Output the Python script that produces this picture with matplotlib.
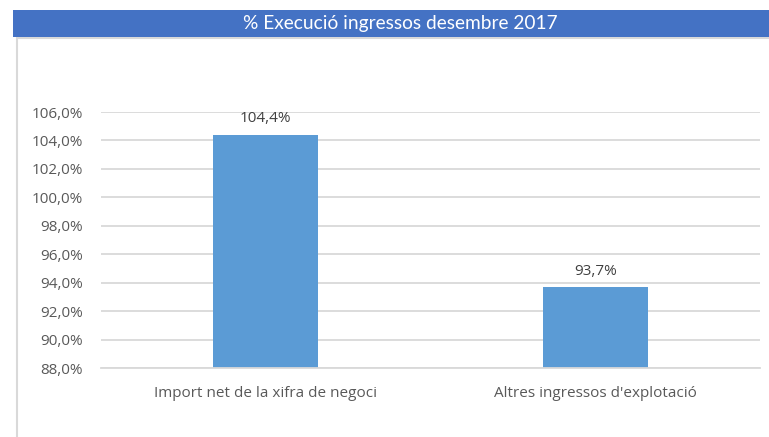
import matplotlib
matplotlib.use("Agg")
import matplotlib.pyplot as plt
from matplotlib.patches import Rectangle

categories = ["Import net de la xifra de negoci", "Altres ingressos d'explotació"]
values = [104.4, 93.7]
value_labels = ["104,4%", "93,7%"]
yticks = [88, 90, 92, 94, 96, 98, 100, 102, 104, 106]
ytick_labels = ["88,0%", "90,0%", "92,0%", "94,0%", "96,0%", "98,0%",
                "100,0%", "102,0%", "104,0%", "106,0%"]
title = "% Execució ingressos desembre 2017"

W, H = 769, 437
fig = plt.figure(figsize=(W / 100, H / 100), dpi=100)
fig.patch.set_facecolor("white")

# chart frame
fig.add_artist(Rectangle((17 / W, -0.05), (W + 10) / W, (H - 38) / H + 0.05,
                         transform=fig.transFigure, facecolor="white",
                         edgecolor="#d9d9d9", linewidth=1.5, zorder=0))
# title band
fig.add_artist(Rectangle((13 / W, 1 - 36.5 / H), (W - 13) / W, 26.5 / H,
                         transform=fig.transFigure, facecolor="#4472c4",
                         edgecolor="none", zorder=1))
fig.text(400 / W, 1 - 23.5 / H, title, color="white",
         fontsize=13.8, family="Lato", ha="center", va="center", zorder=2)

ax = fig.add_axes([101 / W, (H - 368) / H, (760 - 101) / W, (368 - 112) / H])
ax.set_facecolor("none")
x = list(range(len(categories)))
ax.bar(x, values, width=0.32, color="#5b9bd5", zorder=2, bottom=0)
ax.set_xlim(-0.5, len(categories) - 0.5)
ax.set_ylim(88, 106)
ax.set_yticks(yticks)
ax.set_yticklabels(ytick_labels)
ax.set_xticks(x)
ax.set_xticklabels(categories)
ax.yaxis.grid(True, color="#d9d9d9", linewidth=1.3, zorder=0)
ax.set_axisbelow(True)
for s in ["top", "right", "left"]:
    ax.spines[s].set_visible(False)
ax.spines["bottom"].set_color("#d9d9d9")
ax.spines["bottom"].set_linewidth(1.3)
ax.tick_params(axis="both", length=0, colors="#595959", labelsize=11)
ax.tick_params(axis="y", pad=13)
ax.tick_params(axis="x", pad=13)
for lbl in ax.get_xticklabels() + ax.get_yticklabels():
    lbl.set_family("Open Sans")
    lbl.set_color("#595959")

for xi, v, t in zip(x, values, value_labels):
    ax.annotate(t, (xi, v), xytext=(0, 6), textcoords="offset points",
                ha="center", va="bottom", fontsize=11, color="#404040",
                family="Open Sans")

fig.savefig("out.png", dpi=100)
